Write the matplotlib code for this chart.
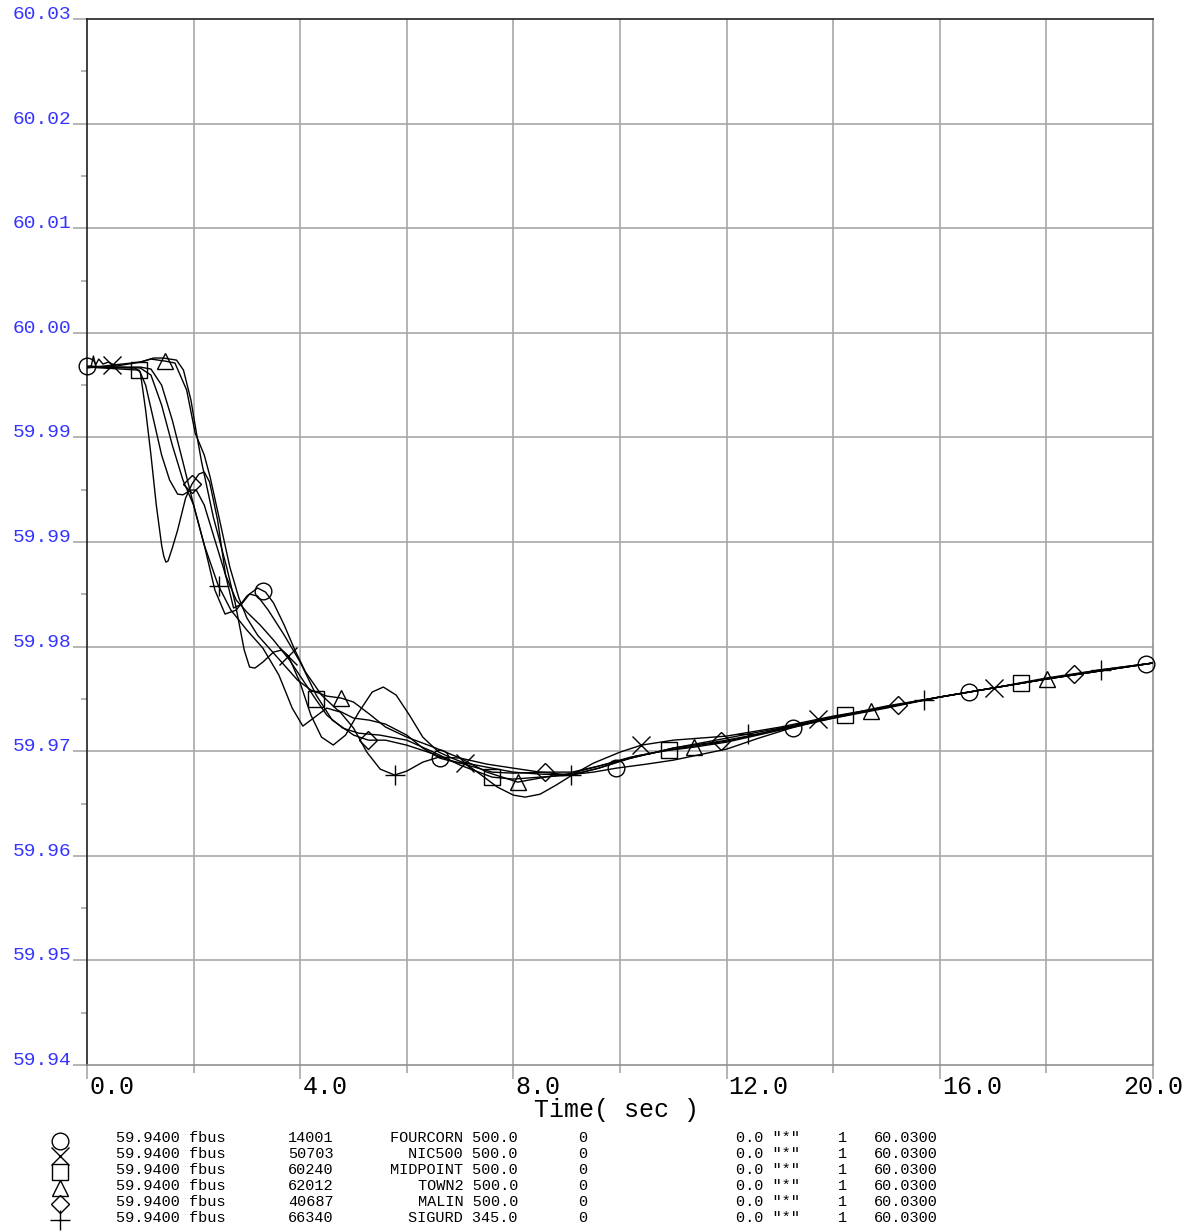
import numpy as np
import matplotlib
matplotlib.use("Agg")
import matplotlib.pyplot as plt
from matplotlib.ticker import FixedLocator

# ---------------- data ----------------
t_ci = [0, 0.5, 1.0, 1.2, 1.4, 1.6, 1.8, 2.0, 2.2, 2.4, 2.59, 2.8, 3.0, 3.2, 3.35, 3.5, 3.7, 3.9, 4.1, 4.4, 4.7, 5.0,
        5.3, 5.6, 6.0, 6.3, 6.62, 6.9, 7.2, 7.6, 8.0, 8.5, 9.0, 9.5, 9.93, 10.5, 11.0, 12.0, 12.6, 13.2, 14, 15, 16,
        17, 18, 19, 20]
f_ci = [60.00014, 60.00005, 59.99997, 59.99936, 59.99678, 59.99334, 59.99033, 59.98818, 59.98474, 59.98086,
        59.97880, 59.97914, 59.98035, 59.98104, 59.98069, 59.97975, 59.97785, 59.97570, 59.97381, 59.97183,
        59.97054, 59.96985, 59.96967, 59.96933, 59.96838, 59.96727, 59.96640, 59.96606, 59.96589, 59.96554,
        59.96520, 59.96503, 59.96494, 59.96520, 59.96554, 59.96589, 59.96623, 59.96718, 59.96812, 59.96898,
        59.96993, 59.97080, 59.97166, 59.97244, 59.97321, 59.97390, 59.97459]

t_x = [0, 0.47, 1.0, 1.25, 1.43, 1.68, 1.81, 1.95, 2.05, 2.15, 2.37, 2.62, 2.78, 2.95, 3.05, 3.15, 3.3, 3.5, 3.65,
       3.78, 4.0, 4.2, 4.4, 4.62, 4.85, 5.1, 5.35, 5.56, 5.8, 6.05, 6.3, 6.6, 6.85, 7.09, 7.4, 7.7, 8.0, 8.22, 8.5,
       8.8, 9.1, 9.5, 10.0, 10.4, 11.0, 12.0, 13.0, 14.0, 15.0, 16.0, 17.0, 18.0, 19.0, 20.0]
f_x = [59.99997, 60.00022, 60.00048, 60.00083, 60.00083, 60.00065, 59.99979, 59.99721, 59.99446, 59.99188,
       59.98715, 59.98284, 59.97975, 59.97570, 59.97424, 59.97415, 59.97467, 59.97553, 59.97570, 59.97519,
       59.97286, 59.97011, 59.96821, 59.96753, 59.96838, 59.97036, 59.97209, 59.97252, 59.97183, 59.97010,
       59.96821, 59.96692, 59.96640, 59.96597, 59.96494, 59.96391, 59.96322, 59.96305, 59.96330, 59.96408,
       59.96494, 59.96597, 59.96692, 59.96752, 59.96795, 59.96830, 59.96907, 59.97002, 59.97080, 59.97166,
       59.97244, 59.97321, 59.97390, 59.97459]

t_sq = [0, 0.98, 1.1, 1.25, 1.4, 1.55, 1.7, 1.8, 1.95, 2.05, 2.2, 2.4, 2.6, 2.8, 3.0, 3.25, 3.5, 3.8, 4.05, 4.29,
        4.5, 4.8, 5.1, 5.5, 6.0, 6.5, 7.0, 7.6, 8.0, 8.5, 9.08, 9.6, 10.3, 10.91, 11.5, 12, 13, 14, 15, 16, 17,
        18, 19, 20]
f_sq = [60.00005, 59.99979, 59.99850, 59.99549, 59.99248, 59.99033, 59.98912, 59.98906, 59.98947, 59.98947,
        59.98818, 59.98516, 59.98215, 59.98000, 59.97897, 59.97785, 59.97656, 59.97484, 59.97312, 59.97148,
        59.97010, 59.96898, 59.96855, 59.96838, 59.96795, 59.96692, 59.96580, 59.96477, 59.96460, 59.96477,
        59.96494, 59.96554, 59.96658, 59.96709, 59.96752, 59.96787, 59.96890, 59.96993, 59.97080, 59.97166,
        59.97244, 59.97321, 59.97390, 59.97459]

t_tr = [0, 0.08, 0.12, 0.16, 0.22, 0.3, 0.4, 0.55, 1.0, 1.2, 1.46, 1.65, 1.87, 2.03, 2.2, 2.31, 2.5, 2.68, 2.85,
        3.0, 3.2, 3.45, 3.7, 3.95, 4.2, 4.5, 4.77, 5.0, 5.3, 5.6, 6.0, 6.5, 7.0, 7.5, 8.08, 8.6, 9.1, 9.6, 10.2,
        10.8, 11.39, 12, 13, 14, 15, 16, 17, 18, 19, 20]
f_tr = [60.00005, 60.00014, 60.00100, 60.00022, 60.00074, 60.00031, 60.00048, 60.00014, 60.00048, 60.00074,
        60.00057, 60.00040, 59.99807, 59.99437, 59.99248, 59.99059, 59.98663, 59.98284, 59.98018, 59.97846,
        59.97699, 59.97570, 59.97441, 59.97312, 59.97226, 59.97174, 59.97157, 59.97123, 59.97019, 59.96908,
        59.96821, 59.96735, 59.96641, 59.96520, 59.96434, 59.96477, 59.96511, 59.96572, 59.96649, 59.96701,
        59.96735, 59.96778, 59.96881, 59.96984, 59.97071, 59.97166, 59.97244, 59.97321, 59.97390, 59.97459]

t_di = [0, 0.9, 1.0, 1.1, 1.2, 1.3, 1.4, 1.44, 1.48, 1.52, 1.6, 1.7, 1.85, 1.97, 2.1, 2.2, 2.3, 2.45, 2.6, 2.75,
        2.9, 3.05, 3.2, 3.4, 3.7, 4.0, 4.3, 4.6, 5.0, 5.28, 5.6, 6.0, 6.4, 6.8, 7.2, 7.6, 8.0, 8.59, 9.1, 9.6,
        10.2, 11.0, 11.9, 12.5, 13, 14, 15, 16, 17, 18, 19, 20]
f_di = [60.00005, 59.99997, 59.99962, 59.99635, 59.99248, 59.98818, 59.98473, 59.98379, 59.98327, 59.98336,
        59.98448, 59.98602, 59.98878, 59.98999, 59.99085, 59.99102, 59.99016, 59.98689, 59.98215, 59.97932,
        59.97966, 59.98052, 59.98035, 59.97914, 59.97699, 59.97467, 59.97183, 59.96968, 59.96839, 59.96795,
        59.96795, 59.96752, 59.96692, 59.96623, 59.96572, 59.96520, 59.96511, 59.96520, 59.96520, 59.96572,
        59.96640, 59.96727, 59.96787, 59.96838, 59.96890, 59.96985, 59.97080, 59.97166, 59.97244, 59.97330,
        59.97399, 59.97459]

t_pl = [0, 1.0, 1.2, 1.4, 1.6, 1.8, 2.0, 2.2, 2.46, 2.7, 3.0, 3.3, 3.6, 3.85, 4.05, 4.25, 4.5, 4.75, 5.0, 5.25,
        5.5, 5.77, 6.0, 6.3, 6.6, 7.0, 7.5, 8.0, 8.5, 9.08, 9.6, 10.2, 11.0, 12.0, 12.39, 13, 14, 15, 16, 17, 18,
        19, 20]
f_pl = [60.00005, 60.00005, 59.99988, 59.99850, 59.99549, 59.99188, 59.98818, 59.98474, 59.98129, 59.97914,
        59.97742, 59.97587, 59.97355, 59.97071, 59.96916, 59.96985, 59.97071, 59.97037, 59.96899, 59.96692,
        59.96546, 59.96495, 59.96529, 59.96606, 59.96649, 59.96641, 59.96589, 59.96554, 59.96520, 59.96495,
        59.96554, 59.96640, 59.96727, 59.96812, 59.96847, 59.96898, 59.96993, 59.97089, 59.97166, 59.97244,
        59.97321, 59.97399, 59.97459]

series_t = [t_ci, t_x, t_sq, t_tr, t_di, t_pl]
series_f = [f_ci, f_x, f_sq, f_tr, f_di, f_pl]
markers = ["o", "x", "s", "^", "D", "+"]
marker_sizes = [12, 13, 12, 12, 9, 14]
marker_offsets = [0.0, 0.47, 0.98, 1.46, 1.97, 2.47]
marker_step = 3.31

legend_value = ["59.9400", "59.9400", "59.9400", "59.9400", "59.9400", "59.9400"]
legend_bus = ["14001", "50703", "60240", "62012", "40687", "66340"]
legend_name = ["FOURCORN 500.0", "NIC500 500.0", "MIDPOINT 500.0", "TOWN2 500.0", "MALIN 500.0", "SIGURD 345.0"]
legend_max = ["60.0300"] * 6

x_major = [0, 4, 8, 12, 16, 20]
x_major_labels = ["0.0", "4.0", "8.0", "12.0", "16.0", "20.0"]
x_minor = [2, 6, 10, 14, 18]
y_ticks = [59.94, 59.949, 59.958, 59.967, 59.976, 59.985, 59.994, 60.003, 60.012, 60.021, 60.03]
y_tick_labels = ["59.94", "59.95", "59.96", "59.97", "59.98", "59.99", "59.99", "60.00", "60.01", "60.02", "60.03"]

# ---------------- figure ----------------
W, H = 1191, 1232
fig = plt.figure(figsize=(W / 100, H / 100), dpi=100)
fig.patch.set_facecolor("white")
mono = "Liberation Mono"

ax = fig.add_axes([87 / W, 1 - 1065 / H, (1153 - 87) / W, (1065 - 19) / H])
ax.set_xlim(0, 20)
ax.set_ylim(59.94, 60.03)

grid_c = "#a8a8a8"
ax.yaxis.set_major_locator(FixedLocator(y_ticks))
ax.yaxis.set_minor_locator(FixedLocator([(a + b) / 2 for a, b in zip(y_ticks[:-1], y_ticks[1:])]))
ax.set_yticklabels(y_tick_labels, fontfamily=mono, fontsize=14, color="#3434ff")
for lab in ax.get_yticklabels():
    lab.set_verticalalignment("baseline")
ax.xaxis.set_major_locator(FixedLocator(x_major))
ax.xaxis.set_minor_locator(FixedLocator(x_minor))
ax.tick_params(axis="y", which="major", direction="out", length=10, width=1.2, color=grid_c, pad=1)
ax.tick_params(axis="y", which="minor", direction="out", length=4.5, width=1.2, color=grid_c)
ax.tick_params(axis="x", which="major", direction="out", length=10, width=1.2, color=grid_c, labelbottom=False)
ax.tick_params(axis="x", which="minor", direction="out", length=6, width=1.2, color=grid_c)

for yv in y_ticks[1:-1]:
    ax.axhline(yv, color=grid_c, lw=1.2, zorder=0)
for xv in sorted(x_major[1:-1] + x_minor):
    ax.axvline(xv, color=grid_c, lw=1.2, zorder=0)

ax.spines["top"].set_color("#202020")
ax.spines["left"].set_color("#202020")
ax.spines["right"].set_color("#909090")
ax.spines["bottom"].set_color("#909090")
for s in ax.spines.values():
    s.set_linewidth(1.2)

for lbl, xv in zip(x_major_labels, x_major):
    if xv == x_major[-1]:
        ax.annotate(lbl, xy=(xv, 0), xycoords=("data", "axes fraction"), xytext=(22, -7),
                    textcoords="offset points", ha="right", va="top", fontfamily=mono, fontsize=18)
    else:
        ax.annotate(lbl, xy=(xv, 0), xycoords=("data", "axes fraction"), xytext=(1.5, -7),
                    textcoords="offset points", ha="left", va="top", fontfamily=mono, fontsize=18)

# curves
for t, f, m, ms, off in zip(series_t, series_f, markers, marker_sizes, marker_offsets):
    ax.plot(t, f, color="black", lw=1.0, zorder=3, solid_joinstyle="round")
    mt = np.arange(off, 20.0 + 1e-9, marker_step)
    ax.plot(mt, np.interp(mt, t, f), linestyle="none", marker=m, ms=ms, mfc="none", mec="black",
            mew=1.0, zorder=4, clip_on=False)

# overlay in pixel coordinates for labels/legend
ov = fig.add_axes([0, 0, 1, 1])
ov.set_xlim(0, W)
ov.set_ylim(H, 0)
ov.axis("off")

ov.text(617, 1110, "Time( sec )", ha="center", va="center", fontfamily=mono, fontsize=18)

row_y = [1138, 1154, 1170, 1186, 1202, 1218]
sym_y = [1141, 1156, 1172, 1188, 1204, 1220]
for i in range(6):
    ov.plot([60], [sym_y[i]], marker=markers[i], ms=marker_sizes[i], mfc="none", mec="black", mew=1.0,
            linestyle="none")
    ov.text(116, row_y[i], legend_value[i] + " fbus", ha="left", va="center", fontfamily=mono, fontsize=11)
    ov.text(288, row_y[i], legend_bus[i], ha="left", va="center", fontfamily=mono, fontsize=11)
    ov.text(518, row_y[i], legend_name[i], ha="right", va="center", fontfamily=mono, fontsize=11)
    ov.text(578, row_y[i], "0", ha="left", va="center", fontfamily=mono, fontsize=11)
    ov.text(736, row_y[i], '0.0 "*"', ha="left", va="center", fontfamily=mono, fontsize=11)
    ov.text(838, row_y[i], "1", ha="left", va="center", fontfamily=mono, fontsize=11)
    ov.text(874, row_y[i], legend_max[i], ha="left", va="center", fontfamily=mono, fontsize=11)

fig.savefig("out.png", dpi=100, facecolor="white")
